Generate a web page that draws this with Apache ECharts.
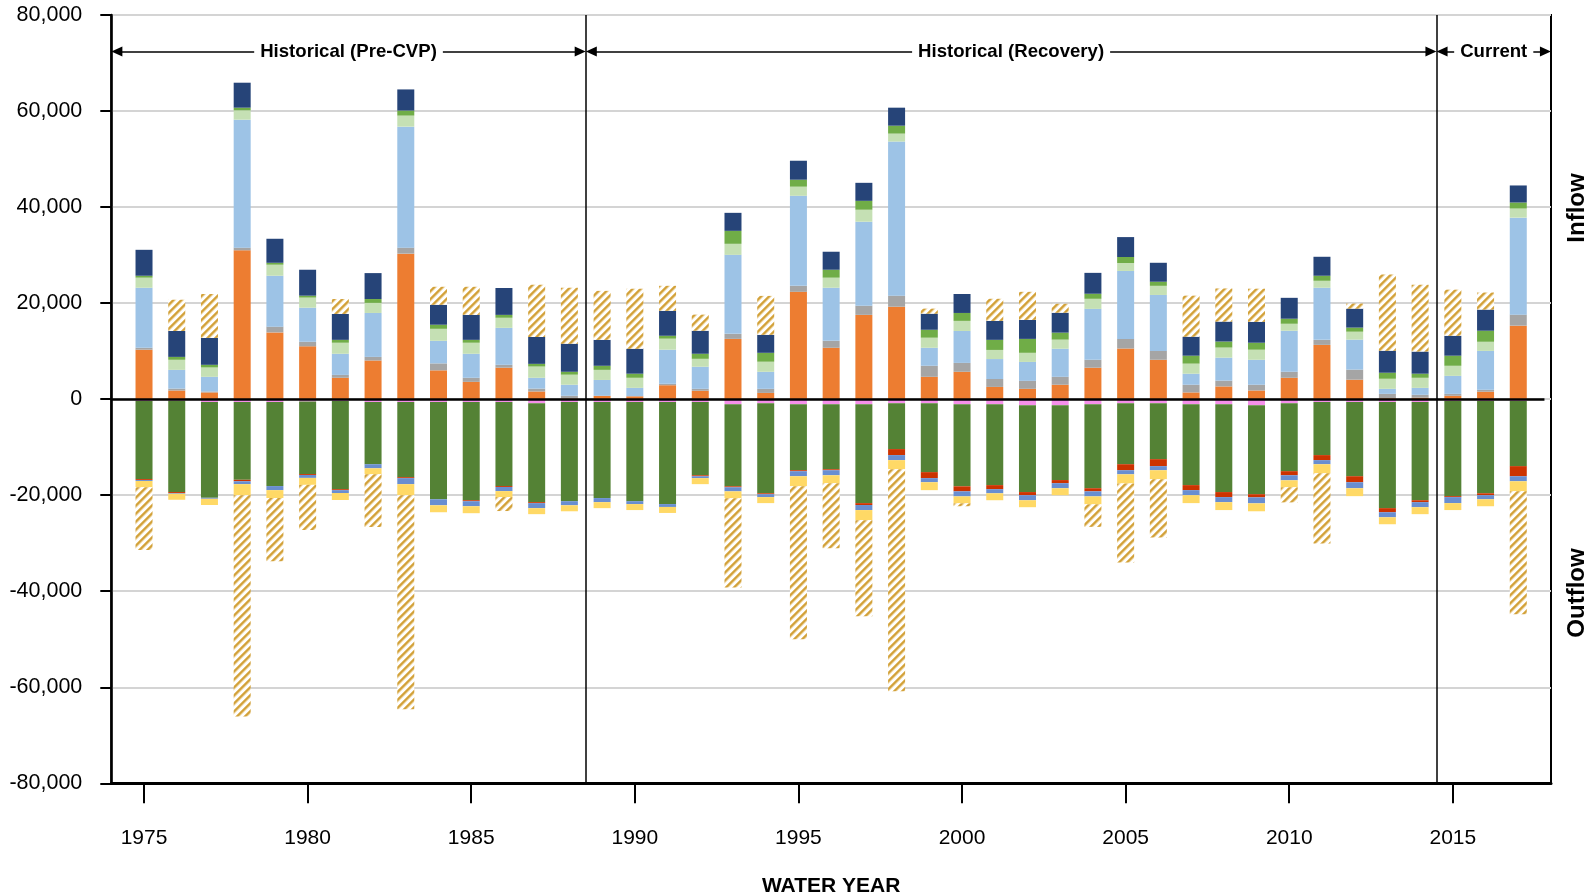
<!DOCTYPE html>
<html>
<head>
<meta charset="utf-8">
<title>Water Year Inflow and Outflow</title>
<script src="https://cdn.jsdelivr.net/npm/echarts@6/dist/echarts.min.js"></script>
<style>
  html, body { margin: 0; padding: 0; background: #ffffff; }
  #chart { width: 1589px; height: 895px; }
</style>
</head>
<body>
<div id="chart"></div>
<script>
// Water years shown on the axis
const years = [1975, 1976, 1977, 1978, 1979, 1980, 1981, 1982, 1983, 1984,
  1985, 1986, 1987, 1988, 1989, 1990, 1991, 1992, 1993, 1994,
  1995, 1996, 1997, 1998, 1999, 2000, 2001, 2002, 2003, 2004,
  2005, 2006, 2007, 2008, 2009, 2010, 2011, 2012, 2013, 2014,
  2015, 2016, 2017];

// Inflow components (stacked upward from zero)
const inOrange = [10300, 1800, 1400, 31000, 13900, 11000, 4450, 8050, 30300, 6000,
  3600, 6550, 1600, 150, 700, 600, 2900, 1750, 12550, 1300,
  22350, 10700, 17550, 19250, 4650, 5700, 2550, 2150, 3000, 6550,
  10550, 8200, 1400, 2650, 1800, 4450, 11300, 4050, 200, 300,
  700, 1550, 15300];
const inGray = [400, 400, 200, 550, 1200, 950, 600, 750, 1250, 1450,
  850, 600, 600, 550, 0, 0, 300, 400, 1050, 850,
  1250, 1450, 1900, 2300, 2300, 1850, 1650, 1650, 1650, 1650,
  2000, 1850, 1600, 1200, 1200, 1250, 1050, 2100, 900, 600,
  400, 400, 2300];
const inLightBlue = [12500, 3900, 3050, 26650, 10600, 7100, 4400, 9150, 25200, 4700,
  5000, 7700, 2250, 2300, 3300, 1750, 7100, 4600, 16450, 3550,
  18750, 11050, 17500, 32100, 3750, 6650, 4150, 3950, 5850, 10600,
  14150, 11650, 2300, 4800, 5200, 8550, 10850, 6250, 1050, 1450,
  3750, 8100, 20200];
const inLightGreen = [2100, 2100, 1950, 1950, 2300, 2100, 2300, 2100, 2300, 2500,
  2300, 2100, 2350, 2100, 2100, 2100, 2300, 1650, 2300, 2100,
  1900, 2100, 2500, 1650, 2100, 2100, 1900, 1900, 1900, 2100,
  1650, 1900, 2100, 2100, 2100, 1450, 1450, 1650, 2100, 2100,
  2100, 1900, 1900];
const inGreen = [400, 600, 550, 550, 400, 400, 600, 800, 1050, 850,
  600, 600, 550, 600, 850, 850, 600, 1050, 2700, 1850,
  1450, 1650, 1850, 1650, 1650, 1650, 2100, 2900, 1450, 1050,
  1250, 850, 1650, 1250, 1450, 1050, 1050, 850, 1250, 850,
  2100, 2300, 1250];
const inNavy = [5400, 5400, 5600, 5200, 5000, 5400, 5400, 5400, 4400, 4150,
  5200, 5600, 5600, 5850, 5400, 5200, 5200, 4800, 3750, 3750,
  3950, 3750, 3750, 3750, 3350, 3950, 3950, 3950, 4150, 4350,
  4150, 3950, 3950, 4150, 4350, 4350, 3950, 3950, 4600, 4600,
  4150, 4400, 3550];
const inStorage = [0, 6500, 9150, 0, 0, 0, 3100, 0, 0, 3750,
  5850, 0, 10850, 11650, 10200, 12500, 5200, 3350, 0, 8100,
  0, 0, 0, 0, 1050, 0, 4600, 5850, 1850, 0,
  0, 0, 8550, 6900, 6900, 0, 0, 1050, 15850, 13950,
  9600, 3550, 0];

// Outflow components (stacked downward from zero)
const outPink = [-400, -350, -600, -600, -600, -500, -400, -600, -600, -600,
  -600, -600, -850, -600, -600, -600, -600, -600, -1050, -850,
  -1050, -1050, -1050, -850, -850, -1050, -1050, -1250, -1250, -1050,
  -850, -850, -1050, -1050, -1250, -850, -600, -600, -600, -600,
  -400, -400, -400];
const outGreen = [-16250, -19000, -19950, -16200, -17500, -15100, -18350, -12950, -15650, -20250,
  -20450, -17500, -20600, -20650, -20000, -20650, -21250, -15250, -17100, -18750,
  -13750, -13550, -20600, -9550, -14350, -17100, -16850, -18100, -15600, -17500,
  -12700, -11650, -16850, -18300, -18550, -14150, -11050, -15450, -22100, -20450,
  -19800, -19200, -13550];
const outRed = [-200, -200, 0, -300, 0, -200, -200, 0, -200, 0,
  -200, -200, -200, 0, 0, 0, 0, -200, -200, -200,
  -200, -200, -400, -1250, -1250, -1050, -850, -650, -650, -650,
  -1250, -1450, -1050, -1050, -650, -850, -1050, -1250, -850, -400,
  -200, -400, -2100];
const outBlue = [-200, -150, -200, -600, -850, -600, -600, -850, -1250, -1250,
  -1050, -850, -1050, -850, -850, -600, -600, -400, -850, -600,
  -1050, -1050, -1050, -1050, -850, -1050, -850, -1050, -1050, -1050,
  -850, -850, -1050, -1050, -1250, -1050, -850, -1250, -1050, -1050,
  -1250, -850, -1050];
const outYellow = [-1300, -1250, -1300, -2300, -1650, -1450, -1450, -1250, -2300, -1450,
  -1450, -1250, -1250, -1250, -1250, -1250, -1250, -1250, -1450, -1250,
  -2100, -1650, -2100, -1900, -1650, -1450, -1450, -1450, -1450, -1650,
  -1900, -1900, -1650, -1650, -1650, -1450, -1900, -1650, -1450, -1450,
  -1450, -1450, -2100];
const outStorage = [-13050, 0, 0, -46100, -13150, -9400, 0, -10950, -44600, 0,
  0, -2900, 0, 0, 0, 0, 0, 0, -18550, 0,
  -31850, -13550, -20000, -46250, 0, -600, 0, 0, 0, -4700,
  -16450, -12100, 0, 0, 0, -3150, -14600, 0, 0, 0,
  0, 0, -25600];

// Period bands along the top of the plot
const periodNames = ['Historical (Pre-CVP)', 'Historical (Recovery)', 'Current'];
const periodBounds = [1974, 1988.5, 2014.5, 2018];

// Axis scale
const yMin = -80000, yMax = 80000, yStep = 20000;

// ---- build ----
const FONT = 'Liberation Sans, Arial, Helvetica, sans-serif';
const firstYear = years[0] - 1;
const lastYear = years[years.length - 1] + 1;
const axisYears = [firstYear].concat(years, [lastYear]).map(String);
const pad = arr => [null].concat(arr, [null]);

// diagonal hatch tile used for the storage change bars
function hatchPattern() {
  const c = document.createElement('canvas');
  c.width = 8; c.height = 8;
  const ctx = c.getContext('2d');
  ctx.fillStyle = '#ffffff';
  ctx.fillRect(0, 0, 8, 8);
  for (let x = 0; x < 8; x++) {
    for (let y = 0; y < 8; y++) {
      const d = (x + y) % 8;
      if (d <= 1) ctx.fillStyle = '#D2A23C';
      else if (d === 2 || d === 7) ctx.fillStyle = '#E4C27A';
      else if (d === 3) ctx.fillStyle = '#F5E6C6';
      else continue;
      ctx.fillRect(x, y, 1, 1);
    }
  }
  return { image: c, repeat: 'repeat' };
}
const hatch = hatchPattern();

function bar(name, values, color) {
  return {
    name: name,
    type: 'bar',
    stack: 'flow',
    barWidth: 17,
    data: pad(values),
    itemStyle: { color: color },
    emphasis: { disabled: true },
    silent: true
  };
}

const series = [
  bar('inOrange', inOrange, '#ED7D31'),
  bar('inGray', inGray, '#A5A5A5'),
  bar('inLightBlue', inLightBlue, '#9DC3E6'),
  bar('inLightGreen', inLightGreen, '#C5E0B4'),
  bar('inGreen', inGreen, '#70AD47'),
  bar('inNavy', inNavy, '#264478'),
  bar('inStorage', inStorage, hatch),
  bar('outPink', outPink, '#F590EA'),
  bar('outGreen', outGreen, '#548235'),
  bar('outRed', outRed, '#CC3300'),
  bar('outBlue', outBlue, '#698ED0'),
  bar('outYellow', outYellow, '#FFD966'),
  bar('outStorage', outStorage, hatch)
];

// zero line and period dividers
const dividerLines = [
  [{ coord: [periodBounds[0], 0], lineStyle: { width: 2.5 } }, { coord: [periodBounds[3] - 0.2, 0] }]
];
for (let i = 1; i < periodBounds.length - 1; i++) {
  dividerLines.push([{ coord: [periodBounds[i], yMin] }, { coord: [periodBounds[i], yMax] }]);
}
series.push({
  type: 'line',
  xAxisIndex: 1,
  yAxisIndex: 0,
  data: [],
  silent: true,
  z: 10,
  markLine: {
    silent: true,
    animation: false,
    symbol: 'none',
    label: { show: false },
    lineStyle: { color: '#000', width: 1.5, type: 'solid' },
    emphasis: { disabled: true },
    data: dividerLines
  }
});

// arrows with period names
const arrowY = 72400;
const inset = 0.17;
const arrowLines = periodNames.map((name, i) => [
  {
    coord: [periodBounds[i] + inset, arrowY],
    label: { formatter: name }
  },
  { coord: [periodBounds[i + 1] - inset, arrowY] }
]);
series.push({
  type: 'line',
  xAxisIndex: 1,
  yAxisIndex: 0,
  data: [],
  silent: true,
  z: 11,
  markLine: {
    silent: true,
    animation: false,
    symbol: ['triangle', 'triangle'],
    symbolSize: [10, 11],
    lineStyle: { color: '#000', width: 1.5, type: 'solid' },
    itemStyle: { color: '#000' },
    label: {
      show: true,
      position: 'middle',
      distance: 0,
      verticalAlign: 'middle',
      color: '#000',
      fontFamily: FONT,
      fontWeight: 'bold',
      fontSize: 18.6,
      backgroundColor: '#ffffff',
      padding: [2, 6]
    },
    emphasis: { disabled: true },
    data: arrowLines
  }
});

const fiveYear = (index, value) => Number(value) % 5 === 0;

const option = {
  animation: false,
  backgroundColor: '#ffffff',
  textStyle: { fontFamily: FONT },
  grid: {
    left: 111.3,
    right: 38,
    top: 15,
    bottom: 111.7,
    containLabel: false,
    outerBoundsMode: 'none',
    show: true,
    borderColor: '#000',
    borderWidth: 2,
    backgroundColor: 'transparent'
  },
  xAxis: [
    {
      type: 'category',
      data: axisYears,
      boundaryGap: false,
      name: 'WATER YEAR',
      nameLocation: 'middle',
      nameGap: 92,
      nameTextStyle: { fontFamily: FONT, fontWeight: 'bold', fontSize: 21, color: '#000' },
      axisLine: { show: true, onZero: false, lineStyle: { color: '#000', width: 3 } },
      axisTick: { show: true, interval: fiveYear, length: 20, lineStyle: { color: '#000', width: 2 } },
      axisLabel: { interval: fiveYear, margin: 44, fontSize: 21, color: '#000', fontFamily: FONT },
      splitLine: { show: false }
    },
    {
      type: 'value',
      min: periodBounds[0],
      max: periodBounds[periodBounds.length - 1],
      show: false,
      gridIndex: 0
    }
  ],
  yAxis: {
    type: 'value',
    min: yMin,
    max: yMax,
    interval: yStep,
    axisLine: { show: true, lineStyle: { color: '#000', width: 2.5 } },
    axisTick: { show: true, inside: false, length: 11, lineStyle: { color: '#000', width: 2 } },
    axisLabel: {
      margin: 29,
      fontSize: 21.5,
      color: '#000',
      fontFamily: FONT,
      formatter: v => v.toLocaleString('en-US')
    },
    splitLine: { show: true, lineStyle: { color: '#D4D4D4', width: 2 } }
  },
  graphic: [
    {
      type: 'text',
      x: 1577,
      y: 208,
      rotation: Math.PI / 2,
      style: {
        text: 'Inflow',
        font: 'bold 24px ' + FONT,
        fill: '#000',
        textAlign: 'center',
        textVerticalAlign: 'middle'
      }
    },
    {
      type: 'text',
      x: 1577,
      y: 593,
      rotation: Math.PI / 2,
      style: {
        text: 'Outflow',
        font: 'bold 24px ' + FONT,
        fill: '#000',
        textAlign: 'center',
        textVerticalAlign: 'middle'
      }
    }
  ],
  series: series
};

const chart = echarts.init(document.getElementById('chart'), null, { renderer: 'canvas' });
chart.setOption(option);
</script>
</body>
</html>
